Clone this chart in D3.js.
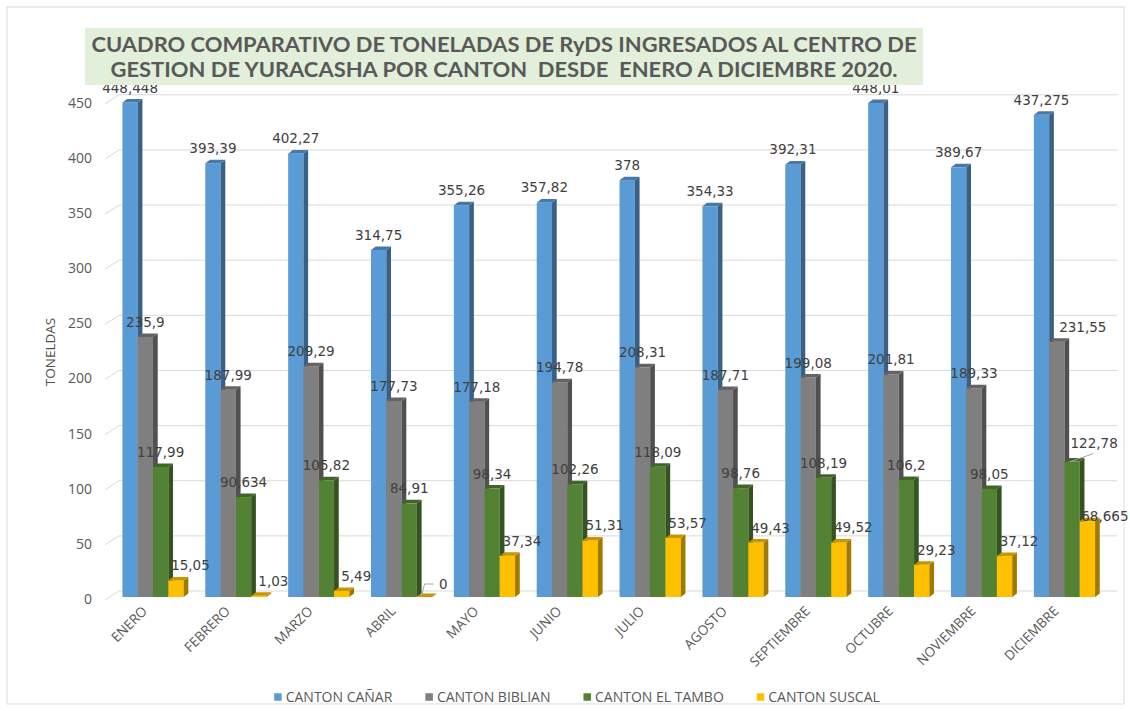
<!DOCTYPE html>
<html><head><meta charset="utf-8">
<script src="https://cdn.jsdelivr.net/npm/d3@7"></script>
<style>body{margin:0;background:#fff}svg{display:block}</style>
</head><body>
<svg id="c" width="1130" height="711"></svg>
<script>
// ---------------- DATA ----------------
const months = ["ENERO","FEBRERO","MARZO","ABRIL","MAYO","JUNIO","JULIO","AGOSTO","SEPTIEMBRE","OCTUBRE","NOVIEMBRE","DICIEMBRE"];
const seriesNames = ["CANTON CAÑAR","CANTON BIBLIAN","CANTON EL TAMBO","CANTON SUSCAL"];
const canar   = [448.448, 393.39, 402.27, 314.75, 355.26, 357.82, 378, 354.33, 392.31, 448.01, 389.67, 437.275];
const biblian = [235.9, 187.99, 209.29, 177.73, 177.18, 194.78, 208.31, 187.71, 199.08, 201.81, 189.33, 231.55];
const tambo   = [117.99, 90.634, 105.82, 84.91, 98.34, 102.26, 118.09, 98.76, 108.19, 106.2, 98.05, 122.78];
const suscal  = [15.05, 1.03, 5.49, 0, 37.34, 51.31, 53.57, 49.43, 49.52, 29.23, 37.12, 68.665];
const yTicks  = [0, 50, 100, 150, 200, 250, 300, 350, 400, 450];
const titleLines = ["CUADRO COMPARATIVO DE TONELADAS DE RyDS INGRESADOS AL CENTRO DE",
                    "GESTION DE YURACASHA POR CANTON  DESDE  ENERO A DICIEMBRE 2020."];
const yTitle = "TONELDAS";
const colors = ["#5B9BD5", "#7F7F7F", "#548235", "#FFC000"];

// ---------------- LAYOUT ----------------
const values = [canar, biblian, tambo, suscal];
const svg = d3.select("#c");
const W = 1130, H = 711;
svg.append("rect").attr("width", W).attr("height", H).attr("fill", "#fff");
svg.append("rect").attr("x", 7).attr("y", 7).attr("width", 1117).attr("height", 697)
  .attr("fill", "none").attr("stroke", "#d9d9d9").attr("stroke-width", 1);

const x = d3.scaleBand().domain(months).range([111.6, 1105.9]).paddingInner(0.2614).paddingOuter(0.1307);
const xs = d3.scaleBand().domain(seriesNames).range([0, x.bandwidth()]).padding(0);
const y = d3.scaleLinear().domain([0, 450]).range([597, 100.8]);
const backDX = 14, backDY = -6;      // back wall offset
const dx = 4.7, dy = 3.5;            // bar depth

// gridlines on back wall + diagonal side-wall ticks
const grid = svg.append("g");
yTicks.forEach(t => {
  const yb = y(t) + backDY;
  grid.append("line").attr("x1", 105 + backDX).attr("x2", 1117).attr("y1", yb).attr("y2", yb)
    .attr("stroke", "#d9d9d9").attr("stroke-width", 1);
  grid.append("line").attr("x1", 105).attr("y1", y(t) + 3).attr("x2", 105 + backDX).attr("y2", yb)
    .attr("stroke", "#d9d9d9").attr("stroke-width", 1);
});

// y axis tick labels
svg.append("g").selectAll("text").data(yTicks).join("text")
  .attr("x", 92).attr("y", d => y(d) + 2).attr("dy", "0.35em")
  .attr("text-anchor", "end").attr("font-family", "'Open Sans', sans-serif").attr("font-size", 14)
  .attr("fill", "#595959").text(d => d);

// y title
svg.append("text").attr("transform", "translate(50,352) rotate(-90)")
  .attr("text-anchor", "middle").attr("dy", "0.35em")
  .attr("font-family", "'Open Sans', sans-serif").attr("font-size", 13.5)
  .attr("fill", "#505050").text(yTitle);

// bars
const bars = svg.append("g");
months.forEach((m, i) => {
  seriesNames.forEach((s, k) => {
    const v = values[k][i];
    const x0 = x(m) + xs(s), w = xs.bandwidth();
    const yt = y(v), yb0 = y(0);
    const c = d3.color(colors[k]);
    if (v > 0) {
      bars.append("rect").attr("x", x0).attr("y", yt).attr("width", w).attr("height", yb0 - yt).attr("fill", colors[k]);
      bars.append("polygon")
        .attr("points", [[x0 + w, yt], [x0 + w + dx, yt - dy], [x0 + w + dx, yb0 - dy], [x0 + w, yb0]].join(" "))
        .attr("fill", c.darker(1.3));
    }
    bars.append("polygon")
      .attr("points", [[x0, yt], [x0 + w, yt], [x0 + w + dx, yt - dy], [x0 + dx, yt - dy]].join(" "))
      .attr("fill", c.darker(0.7));
  });
});

// data labels
const fmt = v => String(v).replace(".", ",");
const lab = svg.append("g").attr("font-family", "'DejaVu Sans', sans-serif").attr("font-size", 13.5).attr("fill", "#404040");
const last = months.length - 1;
months.forEach((m, i) => {
  seriesNames.forEach((s, k) => {
    const v = values[k][i];
    const cx = x(m) + xs(s) + xs.bandwidth() / 2;
    const yt = y(v);
    let lx = cx, ly = yt - 14.7;
    if (k === 3) lx += 14.5;
    if (i === last && k === 1) lx += 26;
    if (i === last && k === 2) {
      lx += 22; ly -= 3.5;
      lab.append("polyline").attr("points", [[cx - 1.5, yt], [cx + 21, yt - 8]].join(" "))
        .attr("fill", "none").attr("stroke", "#a6a6a6").attr("stroke-width", 1);
    }
    if (i === last && k === 3) { lx += 3; ly = yt - 4.7; }
    if (v === 0) {
      lab.append("polyline").attr("points", [[cx - 3, yt - 1.5], [cx, yt - 13], [cx + 9, yt - 13]].join(" "))
        .attr("fill", "none").attr("stroke", "#a6a6a6").attr("stroke-width", 1);
      lab.append("text").attr("x", cx + 14.5).attr("y", yt - 13).attr("dy", "0.35em").text(fmt(v));
      return;
    }
    lab.append("text").attr("x", lx).attr("y", ly).attr("dy", "0.35em").attr("text-anchor", "middle").text(fmt(v));
  });
});

// x axis labels
svg.append("g").selectAll("text").data(months).join("text")
  .attr("transform", d => `translate(${x(d) + x.bandwidth() / 2 - 5},612) rotate(-45)`)
  .attr("text-anchor", "end").attr("font-family", "'Open Sans', sans-serif").attr("font-size", 13.5)
  .attr("fill", "#595959").text(d => d);

// title
svg.append("rect").attr("x", 85).attr("y", 28).attr("width", 838).attr("height", 57).attr("fill", "#E2EFDA");
const tl = [[51.7, 825], [77.3, 787]];
titleLines.forEach((t, j) => {
  svg.append("text").attr("x", 504).attr("y", tl[j][0]).attr("text-anchor", "middle")
    .attr("font-family", "Lato, 'Open Sans', sans-serif").attr("font-weight", "bold").attr("font-size", 20.5)
    .attr("fill", "#595959").style("white-space", "pre")
    .attr("textLength", tl[j][1]).attr("lengthAdjust", "spacingAndGlyphs").text(t);
});

// legend
const leg = svg.append("g");
let lxp = 0;
const items = [];
seriesNames.forEach((s, k) => {
  const g = leg.append("g").attr("transform", `translate(${lxp},0)`);
  g.append("rect").attr("x", 0).attr("y", -3.75).attr("width", 7.5).attr("height", 7.5).attr("fill", colors[k]);
  const t = g.append("text").attr("x", 11.5).attr("dy", "0.35em").attr("font-family", "'Open Sans', sans-serif")
    .attr("font-size", 14).attr("fill", "#595959").text(s);
  lxp += 11.5 + t.node().getComputedTextLength() + 33;
});
const legW = lxp - 33;
leg.attr("transform", `translate(${577 - legW / 2},697)`);
</script>
</body></html>
